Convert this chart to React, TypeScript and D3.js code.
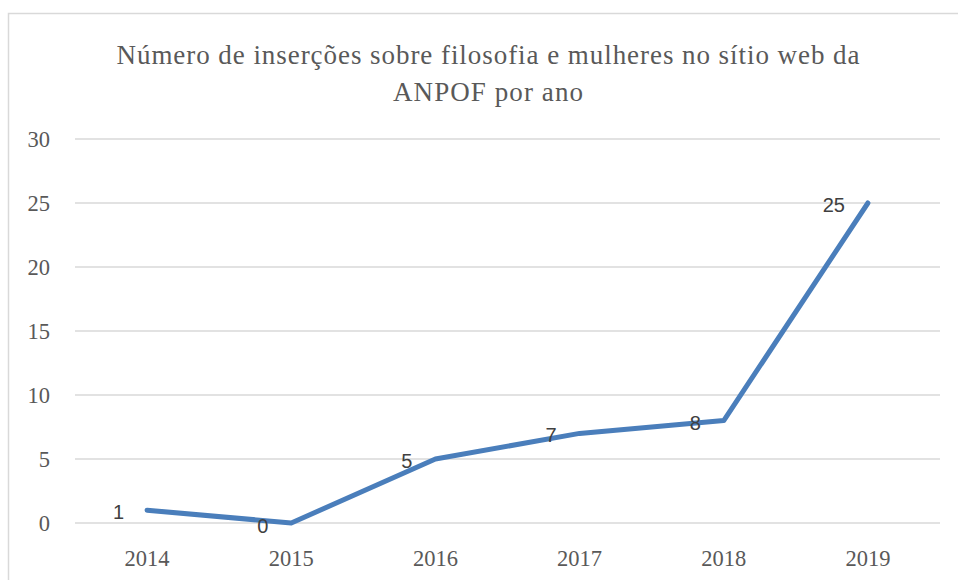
import * as d3 from "d3";

const years = ["2014", "2015", "2016", "2017", "2018", "2019"];
const counts = [1, 0, 5, 7, 8, 25];
const yTicks = [0, 5, 10, 15, 20, 25, 30];
const titleLines = ["Número de inserções sobre filosofia e mulheres no sítio web da", "ANPOF por ano"];
const titleWidths = [743, 190];

const WIDTH = 958;
const HEIGHT = 580;
const PLOT = { left: 75, right: 940, top: 139, bottom: 523 };

export default function App() {
  const x = d3.scaleBand<string>().domain(years).range([PLOT.left, PLOT.right]);
  const y = d3.scaleLinear().domain([0, 30]).range([PLOT.bottom, PLOT.top]);
  const cx = (year: string) => (x(year) ?? 0) + x.bandwidth() / 2;
  const line = d3
    .line<number>()
    .x((_, i) => cx(years[i]))
    .y((d) => y(d));

  const serif = "'Liberation Serif', 'Times New Roman', serif";
  const sans = "'Liberation Sans', Arial, sans-serif";

  return (
    <>
      <style>{`body{margin:0}`}</style>
      <svg width={WIDTH} height={HEIGHT} viewBox={`0 0 ${WIDTH} ${HEIGHT}`} style={{ display: "block" }}>
        <rect width={WIDTH} height={HEIGHT} fill="#ffffff" />
        <rect x={8.5} y={13.5} width={WIDTH + 20} height={HEIGHT + 20} fill="#ffffff" stroke="#d9d9d9" strokeWidth="1.5" />

        {titleLines.map((t, i) => (
          <text
            key={i}
            x={488}
            y={64 + i * 37}
            textAnchor="middle"
            fill="#595959"
            fontFamily={serif}
            fontSize="27"
            textLength={titleWidths[i]}
            lengthAdjust="spacing"
          >
            {t}
          </text>
        ))}

        {yTicks.map((tick) => (
          <g key={tick}>
            <line x1={PLOT.left} x2={PLOT.right} y1={y(tick)} y2={y(tick)} stroke="#d9d9d9" strokeWidth="1.5" />
            <text x={50} y={y(tick)} dy="0.35em" textAnchor="end" fill="#595959" fontFamily={serif} fontSize="22.5">
              {tick}
            </text>
          </g>
        ))}

        {years.map((yr) => (
          <text key={yr} x={cx(yr)} y={566} textAnchor="middle" fill="#595959" fontFamily={serif} fontSize="22.5">
            {yr}
          </text>
        ))}

        <path d={line(counts) ?? undefined} fill="none" stroke="#4a7ebb" strokeWidth="5" strokeLinecap="round" strokeLinejoin="round" />

        {counts.map((v, i) => (
          <text
            key={i}
            x={cx(years[i]) - 23}
            y={y(v) + (v === 0 ? 3 : 2)}
            dy="0.35em"
            textAnchor="end"
            fill="#404040"
            fontFamily={sans}
            fontSize="20"
          >
            {v}
          </text>
        ))}
      </svg>
    </>
  );
}
